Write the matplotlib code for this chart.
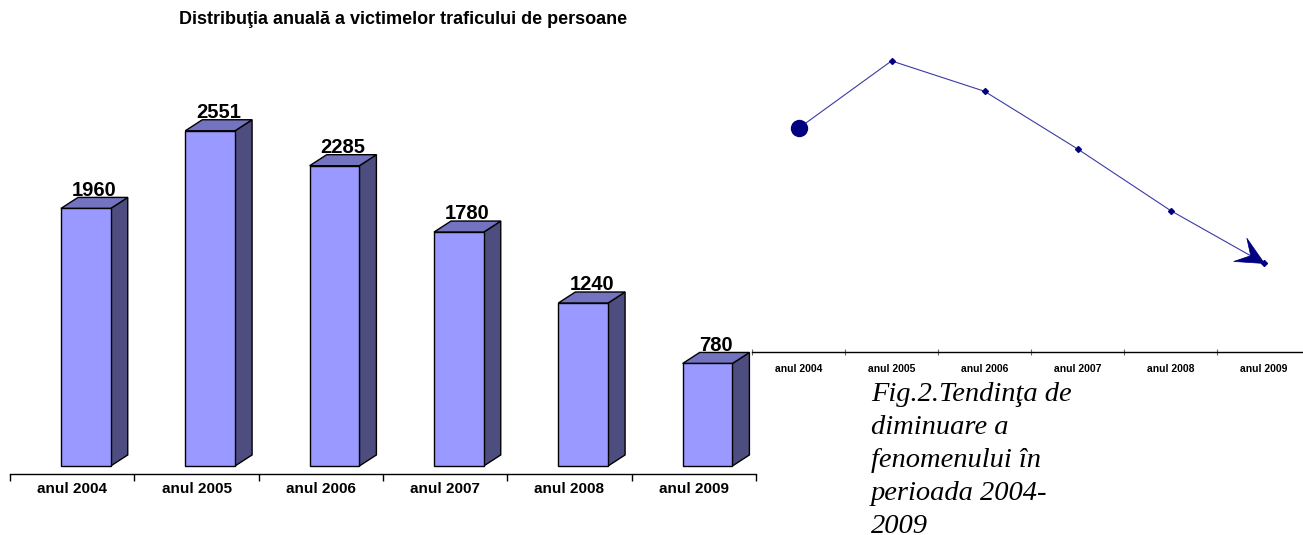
import numpy as np
import matplotlib
matplotlib.use('Agg')
import matplotlib.pyplot as plt
from matplotlib.patches import Polygon
from matplotlib.path import Path
from matplotlib.markers import MarkerStyle
from matplotlib.transforms import Affine2D


#################### Data

years = ['anul 2004', 'anul 2005', 'anul 2006', 'anul 2007', 'anul 2008', 'anul 2009']
victims = [1960, 2551, 2285, 1780, 1240, 780]

title = 'Distribuţia anuală a victimelor traficului de persoane'
caption = ['Fig.2.Tendinţa de', 'diminuare a', 'fenomenului în', 'perioada 2004-', '2009']


#################### Style

plt.rcParams['font.family'] = ['Liberation Sans', 'DejaVu Sans']

color_front = '#9999ff'
color_side = '#4d4d80'
color_top = '#7373bf'
color_navy = '#000080'
color_line = '#3a3aa8'

W, H = 1303, 535   # pixels
fig = plt.figure(figsize=(W / 100, H / 100), dpi=100)


def px_axes(x0, y_top, x1, y_bottom):
    # axes placed by pixel box (origin top-left)
    return fig.add_axes((x0 / W, 1 - y_bottom / H, (x1 - x0) / W, (y_bottom - y_top) / H))


x = np.arange(len(years))


#################### Left: pseudo 3D bars

ax = px_axes(10, 30, 756, 474)
ax.set_xlim(-0.5, 5.5)
ax.set_ylim(-61, 3318)

bar_w = 0.40     # front face width (category units)
shift = 0.11     # front face centre offset
dx, dy = 0.137, 84   # depth offset

ax.bar(x + shift, victims, width=bar_w, color=color_front, edgecolor='black', linewidth=1, zorder=3)
for xi, v in zip(x, victims):
    l = xi + shift - bar_w / 2
    r = xi + shift + bar_w / 2
    side = Polygon([(r, 0), (r + dx, dy), (r + dx, v + dy), (r, v)], closed=True,
                   facecolor=color_side, edgecolor='black', linewidth=1, zorder=2)
    top = Polygon([(l, v), (l + dx, v + dy), (r + dx, v + dy), (r, v)], closed=True,
                  facecolor=color_top, edgecolor='black', linewidth=1, zorder=2)
    ax.add_patch(side)
    ax.add_patch(top)
    ax.text(xi + shift + dx / 2, v + dy + 12, f'{v}', ha='center', va='baseline',
            fontsize=14.5, fontweight='bold')

for s in ['left', 'right', 'top']:
    ax.spines[s].set_visible(False)
ax.spines['bottom'].set_linewidth(1)
ax.set_yticks([])
ax.set_xticks(np.arange(-0.5, 6, 1))
ax.set_xticklabels([])
ax.tick_params(axis='x', which='major', direction='out', length=5, width=1)
ax.set_xticks(x, minor=True)
ax.set_xticklabels(years, minor=True, fontsize=11, fontweight='bold')
ax.tick_params(axis='x', which='minor', length=0, pad=6)


#################### Right: trend line

ax2 = px_axes(752, 30, 1310, 352)
ax2.set_xlim(-0.5, 5.5)
ax2.set_ylim(0, 2822)

ax2.plot(x, victims, color=color_line, linewidth=0.8, marker='D', markersize=3,
         markerfacecolor=color_navy, markeredgecolor=color_navy, zorder=3, clip_on=False)
ax2.plot(x[0], victims[0], 'o', markersize=11.5, color=color_navy, zorder=4)

# stealth arrow head oriented along the last segment
p_a = ax2.transData.transform((x[-2], victims[-2]))
p_b = ax2.transData.transform((x[-1], victims[-1]))
ang = np.arctan2(p_b[1] - p_a[1], p_b[0] - p_a[0])
head = Path([(0, 0), (-1, 0.48), (-0.57, 0), (-1, -0.48), (0, 0)],
            [Path.MOVETO, Path.LINETO, Path.LINETO, Path.LINETO, Path.CLOSEPOLY])
ax2.plot(x[-1], victims[-1], linestyle='none',
         marker=MarkerStyle(head, transform=Affine2D().rotate(ang)),
         markersize=40, color=color_navy, markeredgewidth=0.5, zorder=4, clip_on=False)

for s in ['left', 'right', 'top']:
    ax2.spines[s].set_visible(False)
ax2.spines['bottom'].set_linewidth(1)
ax2.set_yticks([])
ax2.set_xticks(np.arange(-0.5, 6, 1))
ax2.set_xticklabels([])
ax2.tick_params(axis='x', which='major', direction='inout', length=5, width=0.8, color='#666666')
ax2.set_xticks(x, minor=True)
ax2.set_xticklabels(years, minor=True, fontsize=7.5, fontweight='bold')
ax2.tick_params(axis='x', which='minor', length=0, pad=9)


#################### Texts

fig.text(403 / W, 1 - 20 / H, title, ha='center', va='center', fontsize=13, fontweight='bold')

for k, line in enumerate(caption):
    fig.text(871 / W, 1 - (401 + 33 * k) / H, line, ha='left', va='baseline',
             family='Liberation Serif', style='italic', fontsize=20.5)


fig.savefig('out.png', dpi=100)
